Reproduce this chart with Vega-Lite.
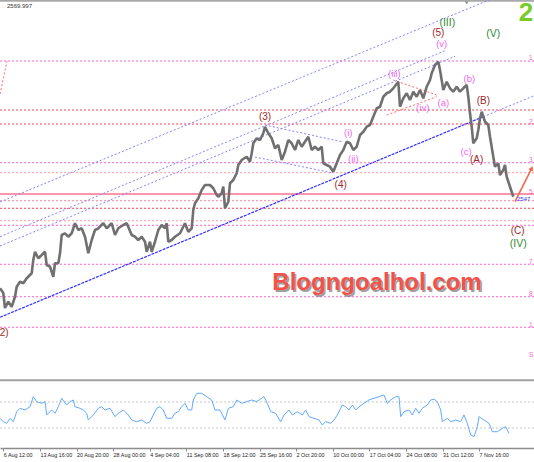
{
  "$schema": "https://vega.github.io/schema/vega-lite/v6.json",
  "width": 534,
  "height": 448,
  "autosize": {"type": "none"},
  "padding": {"left": 0, "top": 0, "right": 0, "bottom": 14},
  "background": "white",
  "config": {"view": {"stroke": null}},
  "datasets": {
    "levels": [
      {"p": 2790.2, "kind": "m"}, {"p": 2702, "kind": "r"}, {"p": 2676.8, "kind": "r"},
      {"p": 2607.1, "kind": "m"}, {"p": 2589.1, "kind": "s"}, {"p": 2538.7, "kind": "p"},
      {"p": 2525.1, "kind": "r"}, {"p": 2502.7, "kind": "s"}, {"p": 2494.5, "kind": "m"},
      {"p": 2424.3, "kind": "m"}, {"p": 2365.9, "kind": "m"}, {"p": 2310.9, "kind": "m"}
    ],
    "thick": [{"p": 2550.8}],
    "topbar": [{"p": 2899}],
    "lines": [
      {"id": "T", "t": 0, "p": 2328.9, "kind": "trend"}, {"id": "T", "t": 483.3, "p": 2689.9, "kind": "trend"},
      {"id": "T2", "t": 483.3, "p": 2689.9, "kind": "chan"}, {"id": "T2", "t": 534, "p": 2727.7, "kind": "chan"},
      {"id": "L1", "t": 0, "p": 2536.4, "kind": "chan"}, {"id": "L1", "t": 489, "p": 2900, "kind": "chan"},
      {"id": "L2", "t": 0, "p": 2473.9, "kind": "chan"}, {"id": "L2", "t": 445, "p": 2808.7, "kind": "chan"},
      {"id": "L3", "t": 0, "p": 2457.2, "kind": "chan"}, {"id": "L3", "t": 455, "p": 2798.7, "kind": "chan"},
      {"id": "U4", "t": 265, "p": 2675, "kind": "chan"}, {"id": "U4", "t": 343, "p": 2644.4, "kind": "chan"},
      {"id": "D4", "t": 255, "p": 2617.4, "kind": "chan"}, {"id": "D4", "t": 333, "p": 2588.6, "kind": "chan"},
      {"id": "RU", "t": 393.3, "p": 2756, "kind": "red"}, {"id": "RU", "t": 436.7, "p": 2729, "kind": "red"},
      {"id": "RD", "t": 386.7, "p": 2693, "kind": "red"}, {"id": "RD", "t": 436.7, "p": 2725.9, "kind": "red"},
      {"id": "RL", "t": 0, "p": 2730.8, "kind": "red"}, {"id": "RL", "t": 7, "p": 2790.2, "kind": "red"}
    ],
    "price": [
      {"t": 0, "p": 2381.1}, {"t": 3.3, "p": 2372.6}, {"t": 5, "p": 2345.6}, {"t": 8.3, "p": 2356.9},
      {"t": 11.7, "p": 2347.9}, {"t": 15, "p": 2365.9}, {"t": 16.7, "p": 2383.9}, {"t": 20, "p": 2392.9},
      {"t": 23.3, "p": 2390.1}, {"t": 26.7, "p": 2399.1}, {"t": 31.7, "p": 2408.1}, {"t": 33.3, "p": 2432},
      {"t": 35, "p": 2446.9}, {"t": 38.3, "p": 2435.1}, {"t": 41.7, "p": 2441}, {"t": 45, "p": 2446.9},
      {"t": 46.7, "p": 2423}, {"t": 50, "p": 2419.9}, {"t": 53.3, "p": 2401.9}, {"t": 55, "p": 2426.1},
      {"t": 58.3, "p": 2426.1}, {"t": 60, "p": 2444.1}, {"t": 61.7, "p": 2477}, {"t": 65, "p": 2480.1},
      {"t": 68.3, "p": 2473.9}, {"t": 71.7, "p": 2480.1}, {"t": 75, "p": 2498.1}, {"t": 78.3, "p": 2486},
      {"t": 81.7, "p": 2489.1}, {"t": 85, "p": 2473.9}, {"t": 88.3, "p": 2444.1}, {"t": 91.7, "p": 2468},
      {"t": 95, "p": 2486}, {"t": 98.3, "p": 2489.1}, {"t": 103.3, "p": 2498.1}, {"t": 106.7, "p": 2489.1},
      {"t": 111.7, "p": 2498.1}, {"t": 115, "p": 2477}, {"t": 118.3, "p": 2489.1}, {"t": 123.3, "p": 2495},
      {"t": 126.7, "p": 2498.1}, {"t": 131.7, "p": 2477}, {"t": 135, "p": 2473.9}, {"t": 138.3, "p": 2468},
      {"t": 141.7, "p": 2473.9}, {"t": 145, "p": 2464.9}, {"t": 146.7, "p": 2446.9}, {"t": 150, "p": 2464.9},
      {"t": 151.7, "p": 2446.9}, {"t": 155, "p": 2464.9}, {"t": 158.3, "p": 2486}, {"t": 161.7, "p": 2495},
      {"t": 165, "p": 2489.1}, {"t": 166.7, "p": 2498.1}, {"t": 168.3, "p": 2464.9}, {"t": 171.7, "p": 2468},
      {"t": 175, "p": 2473.9}, {"t": 180, "p": 2480.1}, {"t": 185, "p": 2498.1}, {"t": 188.3, "p": 2482.9},
      {"t": 191.7, "p": 2489.1}, {"t": 193.3, "p": 2522}, {"t": 195, "p": 2534.1}, {"t": 198.3, "p": 2543.1},
      {"t": 201.7, "p": 2558}, {"t": 205, "p": 2567}, {"t": 210, "p": 2567}, {"t": 213.3, "p": 2561.1},
      {"t": 216.7, "p": 2549}, {"t": 218.3, "p": 2545.9}, {"t": 221.7, "p": 2552.1}, {"t": 223.3, "p": 2564.1},
      {"t": 225, "p": 2525.1}, {"t": 228.3, "p": 2536.9}, {"t": 230, "p": 2570.1}, {"t": 233.3, "p": 2576},
      {"t": 236.7, "p": 2588.1}, {"t": 238.3, "p": 2603}, {"t": 241.7, "p": 2612}, {"t": 246.7, "p": 2617.9},
      {"t": 250, "p": 2608.9}, {"t": 251.7, "p": 2624.1}, {"t": 253.3, "p": 2642.1}, {"t": 256.7, "p": 2651.1},
      {"t": 260, "p": 2648}, {"t": 263.3, "p": 2660.1}, {"t": 265, "p": 2671.9}, {"t": 268.3, "p": 2660.1},
      {"t": 271.7, "p": 2651.1}, {"t": 275, "p": 2633.1}, {"t": 278.3, "p": 2639}, {"t": 281.7, "p": 2612},
      {"t": 285, "p": 2626.9}, {"t": 288.3, "p": 2648}, {"t": 291.7, "p": 2642.1}, {"t": 295, "p": 2630},
      {"t": 298.3, "p": 2648}, {"t": 301.7, "p": 2635.9}, {"t": 305, "p": 2644.9}, {"t": 308.3, "p": 2653.9},
      {"t": 311.7, "p": 2630}, {"t": 315, "p": 2635.9}, {"t": 318.3, "p": 2630}, {"t": 321.7, "p": 2635.9},
      {"t": 323.3, "p": 2606.1}, {"t": 326.7, "p": 2603}, {"t": 330, "p": 2599.9}, {"t": 333.3, "p": 2590.9},
      {"t": 336.7, "p": 2606.1}, {"t": 340, "p": 2621}, {"t": 343.3, "p": 2630}, {"t": 346.7, "p": 2644.9},
      {"t": 350, "p": 2642.1}, {"t": 353.3, "p": 2630}, {"t": 356.7, "p": 2635.9}, {"t": 360, "p": 2657},
      {"t": 363.3, "p": 2662.9}, {"t": 366.7, "p": 2671.9}, {"t": 370, "p": 2675}, {"t": 373.3, "p": 2689.9},
      {"t": 376.7, "p": 2705.1}, {"t": 380, "p": 2707.9}, {"t": 383.3, "p": 2725.9}, {"t": 386.7, "p": 2732.1},
      {"t": 390, "p": 2734.9}, {"t": 393.3, "p": 2741.1}, {"t": 398.3, "p": 2752.9}, {"t": 400, "p": 2707.9},
      {"t": 403.3, "p": 2723.1}, {"t": 406.7, "p": 2732.1}, {"t": 410, "p": 2720}, {"t": 413.3, "p": 2734.9},
      {"t": 416.7, "p": 2725.9}, {"t": 420, "p": 2738}, {"t": 423.3, "p": 2723.1}, {"t": 426.7, "p": 2743.9},
      {"t": 430, "p": 2756}, {"t": 431.7, "p": 2768.1}, {"t": 435, "p": 2783}, {"t": 438.3, "p": 2788.9},
      {"t": 440, "p": 2774}, {"t": 443.3, "p": 2738}, {"t": 446.7, "p": 2752.9}, {"t": 450, "p": 2741.1},
      {"t": 453.3, "p": 2734.9}, {"t": 456.7, "p": 2743.9}, {"t": 460, "p": 2734.9}, {"t": 463.3, "p": 2741.1},
      {"t": 466.7, "p": 2747}, {"t": 468.3, "p": 2725.9}, {"t": 470, "p": 2696.1}, {"t": 471.7, "p": 2671.9},
      {"t": 473.3, "p": 2642.1}, {"t": 476.7, "p": 2651.1}, {"t": 478.3, "p": 2666}, {"t": 480, "p": 2687.1},
      {"t": 481.7, "p": 2698.9}, {"t": 485, "p": 2680.9}, {"t": 488.3, "p": 2675}, {"t": 490, "p": 2653.9},
      {"t": 493.3, "p": 2617.9}, {"t": 495, "p": 2599.9}, {"t": 498.3, "p": 2606.1}, {"t": 500, "p": 2585},
      {"t": 503.3, "p": 2594}, {"t": 505, "p": 2603}, {"t": 506.7, "p": 2581.9}, {"t": 510, "p": 2563.9},
      {"t": 513.3, "p": 2545.9}
    ],
    "major": [
      {"t": 265, "p": 2690, "label": "(3)"}, {"t": 340.7, "p": 2567, "label": "(4)"},
      {"t": 438.3, "p": 2840, "label": "(5)"}, {"t": 476.7, "p": 2612, "label": "(A)"},
      {"t": 483.3, "p": 2718.7, "label": "(B)"}, {"t": 517.7, "p": 2484.2, "label": "(C)"},
      {"t": 2.5, "p": 2301.1, "label": "(2)"}
    ],
    "green": [
      {"t": 447.3, "p": 2858.1, "label": "(III)"}, {"t": 493.3, "p": 2838.8, "label": "(V)"},
      {"t": 518.3, "p": 2460.8, "label": "(IV)"}
    ],
    "minor": [
      {"t": 348.3, "p": 2660, "label": "(i)"}, {"t": 353.3, "p": 2613.3, "label": "(ii)"},
      {"t": 394.3, "p": 2766.8, "label": "(iii)"}, {"t": 422.7, "p": 2706.1, "label": "(iv)"},
      {"t": 441.7, "p": 2820.8, "label": "(v)"}, {"t": 443.3, "p": 2714, "label": "(a)"},
      {"t": 469.3, "p": 2757.3, "label": "(b)"}, {"t": 466, "p": 2626.9, "label": "(c)"}
    ],
    "edge": [
      {"t": 529, "p": 2795.6, "label": "1"}, {"t": 529, "p": 2681.3, "label": "2"},
      {"t": 529, "p": 2612, "label": "3"}, {"t": 529, "p": 2555.3, "label": "5"},
      {"t": 529, "p": 2429.3, "label": "7"}, {"t": 529, "p": 2371.7, "label": "8"},
      {"t": 529, "p": 2315.9, "label": "1"}, {"t": 529, "p": 2261, "label": "S"}
    ],
    "arrow": [{"t": 515, "p": 2536.9}, {"t": 531.7, "p": 2597}],
    "arrowhead": [{"t": 531.7, "p": 2597}],
    "marker": [{"t": 466.7, "p": 2894.6}],
    "rsi": [
      {"t": 0, "r": 44.9}, {"t": 3.3, "r": 39.7}, {"t": 6.7, "r": 37.2}, {"t": 10, "r": 44.9},
      {"t": 13.3, "r": 39.7}, {"t": 16.7, "r": 55.1}, {"t": 20, "r": 60.3}, {"t": 25, "r": 57.7},
      {"t": 30, "r": 62.8}, {"t": 33.3, "r": 78.2}, {"t": 36.7, "r": 70.5}, {"t": 41.7, "r": 68},
      {"t": 45, "r": 70.5}, {"t": 46.7, "r": 50}, {"t": 51.7, "r": 57.7}, {"t": 55, "r": 52.6},
      {"t": 58.3, "r": 62.8}, {"t": 61.7, "r": 75.7}, {"t": 66.7, "r": 65.4}, {"t": 70, "r": 70.5},
      {"t": 73.3, "r": 73.1}, {"t": 75, "r": 62.8}, {"t": 80, "r": 60.3}, {"t": 83.3, "r": 57.7},
      {"t": 86.7, "r": 52.6}, {"t": 88.3, "r": 42.3}, {"t": 93.3, "r": 50}, {"t": 98.3, "r": 60.3},
      {"t": 101.7, "r": 62.8}, {"t": 105, "r": 57.7}, {"t": 110, "r": 60.3}, {"t": 115, "r": 47.4},
      {"t": 118.3, "r": 52.6}, {"t": 123.3, "r": 57.7}, {"t": 128.3, "r": 50}, {"t": 131.7, "r": 42.3},
      {"t": 136.7, "r": 39.7}, {"t": 141.7, "r": 42.3}, {"t": 146.7, "r": 37.2}, {"t": 150, "r": 39.7},
      {"t": 153.3, "r": 50}, {"t": 156.7, "r": 60.3}, {"t": 160, "r": 62.8}, {"t": 163.3, "r": 57.7},
      {"t": 166.7, "r": 44.9}, {"t": 171.7, "r": 44.9}, {"t": 175, "r": 52.6}, {"t": 178.3, "r": 55.1},
      {"t": 181.7, "r": 62.8}, {"t": 185, "r": 68}, {"t": 188.3, "r": 57.7}, {"t": 191.7, "r": 57.7},
      {"t": 193.3, "r": 73.1}, {"t": 196.7, "r": 83.4}, {"t": 201.7, "r": 83.4}, {"t": 206.7, "r": 78.2},
      {"t": 211.7, "r": 73.1}, {"t": 215, "r": 57.7}, {"t": 220, "r": 57.7}, {"t": 225, "r": 42.3},
      {"t": 228.3, "r": 60.3}, {"t": 233.3, "r": 62.8}, {"t": 236.7, "r": 73.1}, {"t": 241.7, "r": 68},
      {"t": 246.7, "r": 70.5}, {"t": 251.7, "r": 73.1}, {"t": 256.7, "r": 70.5}, {"t": 261.7, "r": 75.7},
      {"t": 264, "r": 78.2}, {"t": 267.3, "r": 68}, {"t": 270.7, "r": 55.1}, {"t": 275.7, "r": 52.6},
      {"t": 280.7, "r": 39.7}, {"t": 284, "r": 50}, {"t": 289, "r": 57.7}, {"t": 292.3, "r": 50},
      {"t": 297.3, "r": 55.1}, {"t": 302.3, "r": 50}, {"t": 305.7, "r": 57.7}, {"t": 309, "r": 47.4},
      {"t": 314, "r": 44.9}, {"t": 319, "r": 42.3}, {"t": 322.3, "r": 34.6}, {"t": 325.7, "r": 39.7},
      {"t": 330.7, "r": 37.2}, {"t": 334, "r": 42.3}, {"t": 337.3, "r": 50}, {"t": 342.3, "r": 65.4},
      {"t": 345.7, "r": 62.8}, {"t": 349, "r": 57.7}, {"t": 352.3, "r": 65.4}, {"t": 355.7, "r": 57.7},
      {"t": 359, "r": 62.8}, {"t": 364, "r": 68}, {"t": 369, "r": 73.1}, {"t": 374, "r": 75.7},
      {"t": 379, "r": 78.2}, {"t": 384, "r": 80.8}, {"t": 387.3, "r": 68}, {"t": 390.7, "r": 73.1},
      {"t": 395.7, "r": 78.2}, {"t": 399, "r": 78.2}, {"t": 400.7, "r": 47.4}, {"t": 404, "r": 55.1},
      {"t": 409, "r": 57.7}, {"t": 412.3, "r": 50}, {"t": 415.7, "r": 60.3}, {"t": 419, "r": 52.6},
      {"t": 422.3, "r": 60.3}, {"t": 427.3, "r": 65.4}, {"t": 430.7, "r": 73.1}, {"t": 434, "r": 74.2},
      {"t": 437.3, "r": 70.5}, {"t": 440.7, "r": 57.7}, {"t": 442.3, "r": 39.7}, {"t": 447.3, "r": 44.9},
      {"t": 450.7, "r": 39.7}, {"t": 455.7, "r": 42.3}, {"t": 460.7, "r": 39.7}, {"t": 464, "r": 50},
      {"t": 467.3, "r": 37.2}, {"t": 470.7, "r": 19.2}, {"t": 474, "r": 16.6}, {"t": 477.3, "r": 32},
      {"t": 479, "r": 47.4}, {"t": 484, "r": 42.3}, {"t": 489, "r": 37.2}, {"t": 492.3, "r": 24.3},
      {"t": 497.3, "r": 24.3}, {"t": 502.3, "r": 29.5}, {"t": 505.7, "r": 32}, {"t": 509, "r": 21.8}
    ],
    "rsilevels": [{"r": 70}, {"r": 30}],
    "separator": [{"r": 103.4}]
  },
  "resolve": {"scale": {"y": "independent"}},
  "layer": [
    {
      "layer": [
        {
          "data": {"name": "levels"},
          "transform": [{"filter": "datum.kind == 'm'"}],
          "mark": {"type": "rule", "strokeDash": [2, 2], "strokeWidth": 1, "color": "#ff5fcf"},
          "encoding": {"y": {"field": "p", "type": "quantitative", "scale": {"domain": [2093.6, 2900], "nice": false, "zero": false}, "axis": null}}
        },
        {
          "data": {"name": "levels"},
          "transform": [{"filter": "datum.kind == 'r'"}],
          "mark": {"type": "rule", "strokeDash": [2, 2], "strokeWidth": 1, "color": "#ff3f4f"},
          "encoding": {"y": {"field": "p", "type": "quantitative", "scale": {"domain": [2093.6, 2900], "nice": false, "zero": false}, "axis": null}}
        },
        {
          "data": {"name": "levels"},
          "transform": [{"filter": "datum.kind == 's'"}],
          "mark": {"type": "rule", "strokeDash": [2, 2], "strokeWidth": 1, "color": "#ff9a9a"},
          "encoding": {"y": {"field": "p", "type": "quantitative", "scale": {"domain": [2093.6, 2900], "nice": false, "zero": false}, "axis": null}}
        },
        {
          "data": {"name": "levels"},
          "transform": [{"filter": "datum.kind == 'p'"}],
          "mark": {"type": "rule", "strokeDash": [2, 2], "strokeWidth": 1, "color": "#ff7fa0"},
          "encoding": {"y": {"field": "p", "type": "quantitative", "scale": {"domain": [2093.6, 2900], "nice": false, "zero": false}, "axis": null}}
        },
        {
          "data": {"name": "thick"},
          "mark": {"type": "rule", "strokeWidth": 2, "color": "#ff94aa"},
          "encoding": {"y": {"field": "p", "type": "quantitative", "scale": {"domain": [2093.6, 2900], "nice": false, "zero": false}, "axis": null}}
        },
        {
          "data": {"name": "topbar"},
          "mark": {"type": "rule", "strokeWidth": 2.2, "color": "#a8a8a8"},
          "encoding": {"y": {"field": "p", "type": "quantitative", "scale": {"domain": [2093.6, 2900], "nice": false, "zero": false}, "axis": null}}
        },
        {
          "data": {"name": "lines"},
          "transform": [{"filter": "datum.kind == 'chan'"}],
          "mark": {"type": "line", "strokeWidth": 1, "strokeDash": [2, 2], "color": "#8585ff", "clip": true},
          "encoding": {
            "x": {"field": "t", "type": "quantitative", "scale": {"domain": [0, 534], "nice": false, "zero": false}},
            "y": {"field": "p", "type": "quantitative", "scale": {"domain": [2093.6, 2900], "nice": false, "zero": false}, "axis": null},
            "detail": {"field": "id"}
          }
        },
        {
          "data": {"name": "lines"},
          "transform": [{"filter": "datum.kind == 'red'"}],
          "mark": {"type": "line", "strokeWidth": 1, "strokeDash": [2, 2], "color": "#ff6a6a", "clip": true},
          "encoding": {
            "x": {"field": "t", "type": "quantitative", "scale": {"domain": [0, 534], "nice": false, "zero": false}},
            "y": {"field": "p", "type": "quantitative", "scale": {"domain": [2093.6, 2900], "nice": false, "zero": false}, "axis": null},
            "detail": {"field": "id"}
          }
        },
        {
          "data": {"name": "lines"},
          "transform": [{"filter": "datum.kind == 'trend'"}],
          "mark": {"type": "line", "strokeWidth": 1.2, "strokeDash": [3, 1], "color": "#3030ff", "clip": true},
          "encoding": {
            "x": {"field": "t", "type": "quantitative", "scale": {"domain": [0, 534], "nice": false, "zero": false}},
            "y": {"field": "p", "type": "quantitative", "scale": {"domain": [2093.6, 2900], "nice": false, "zero": false}, "axis": null},
            "detail": {"field": "id"}
          }
        },
        {
          "data": {"name": "price"},
          "mark": {"type": "line", "color": "#707070", "strokeWidth": 2.6, "strokeJoin": "bevel"},
          "encoding": {
            "x": {
              "field": "t", "type": "quantitative",
              "scale": {"domain": [0, 534], "nice": false, "zero": false},
              "axis": {
                "orient": "bottom", "title": null, "grid": false,
                "values": [3.3, 39.9, 76.5, 113.1, 149.7, 186.3, 222.9, 259.5, 296.1, 332.7, 369.3, 405.9, 442.5, 479.1],
                "labelExpr": "['6 Aug 12:00','13 Aug 16:00','20 Aug 20:00','28 Aug 00:00','4 Sep 04:00','11 Sep 08:00','18 Sep 12:00','25 Sep 16:00','2 Oct 20:00','10 Oct 00:00','17 Oct 04:00','24 Oct 08:00','31 Oct 12:00','7 Nov 16:00'][round((datum.value-3.3)/36.6)]",
                "labelAlign": "left", "labelBaseline": "top", "labelFont": "Liberation Sans", "labelFontSize": 5.4,
                "labelColor": "#222222", "labelPadding": 1.5, "labelDx": 1, "labelOverlap": false, "labelFlush": false,
                "domainColor": "#8c8c8c", "domainWidth": 1.5, "tickColor": "#8c8c8c", "tickSize": 3, "tickWidth": 1
              }
            },
            "y": {"field": "p", "type": "quantitative", "scale": {"domain": [2093.6, 2900], "nice": false, "zero": false}, "axis": null}
          }
        },
        {
          "data": {"name": "arrow"},
          "mark": {"type": "line", "color": "#f0694f", "strokeWidth": 1.6},
          "encoding": {
            "x": {"field": "t", "type": "quantitative", "scale": {"domain": [0, 534], "nice": false, "zero": false}},
            "y": {"field": "p", "type": "quantitative", "scale": {"domain": [2093.6, 2900], "nice": false, "zero": false}, "axis": null}
          }
        },
        {
          "data": {"name": "arrowhead"},
          "mark": {"type": "point", "shape": "triangle-up", "filled": true, "size": 28, "angle": 27, "color": "#f0694f", "opacity": 1},
          "encoding": {
            "x": {"field": "t", "type": "quantitative", "scale": {"domain": [0, 534], "nice": false, "zero": false}},
            "y": {"field": "p", "type": "quantitative", "scale": {"domain": [2093.6, 2900], "nice": false, "zero": false}, "axis": null}
          }
        },
        {
          "data": {"name": "marker"},
          "mark": {"type": "point", "shape": "triangle-down", "filled": true, "size": 14, "color": "#909090", "opacity": 1},
          "encoding": {
            "x": {"field": "t", "type": "quantitative", "scale": {"domain": [0, 534], "nice": false, "zero": false}},
            "y": {"field": "p", "type": "quantitative", "scale": {"domain": [2093.6, 2900], "nice": false, "zero": false}, "axis": null}
          }
        },
        {
          "data": {"name": "major"},
          "mark": {"type": "text", "font": "Liberation Sans", "fontSize": 10, "color": "#a02828", "baseline": "middle"},
          "encoding": {
            "x": {"field": "t", "type": "quantitative", "scale": {"domain": [0, 534], "nice": false, "zero": false}},
            "y": {"field": "p", "type": "quantitative", "scale": {"domain": [2093.6, 2900], "nice": false, "zero": false}, "axis": null},
            "text": {"field": "label"}
          }
        },
        {
          "data": {"name": "green"},
          "mark": {"type": "text", "font": "Liberation Sans", "fontSize": 10.5, "color": "#2f8a2f", "baseline": "middle"},
          "encoding": {
            "x": {"field": "t", "type": "quantitative", "scale": {"domain": [0, 534], "nice": false, "zero": false}},
            "y": {"field": "p", "type": "quantitative", "scale": {"domain": [2093.6, 2900], "nice": false, "zero": false}, "axis": null},
            "text": {"field": "label"}
          }
        },
        {
          "data": {"name": "minor"},
          "mark": {"type": "text", "font": "Liberation Sans", "fontSize": 9.5, "color": "#f266f2", "baseline": "middle"},
          "encoding": {
            "x": {"field": "t", "type": "quantitative", "scale": {"domain": [0, 534], "nice": false, "zero": false}},
            "y": {"field": "p", "type": "quantitative", "scale": {"domain": [2093.6, 2900], "nice": false, "zero": false}, "axis": null},
            "text": {"field": "label"}
          }
        },
        {
          "data": {"name": "edge"},
          "mark": {"type": "text", "font": "Liberation Sans", "fontSize": 6.5, "color": "#ff5fcf", "align": "left", "baseline": "middle"},
          "encoding": {
            "x": {"field": "t", "type": "quantitative", "scale": {"domain": [0, 534], "nice": false, "zero": false}},
            "y": {"field": "p", "type": "quantitative", "scale": {"domain": [2093.6, 2900], "nice": false, "zero": false}, "axis": null},
            "text": {"field": "label"}
          }
        },
        {
          "data": {"values": [{"t": 526, "p": 2876, "label": "2"}]},
          "mark": {"type": "text", "font": "Liberation Sans", "fontSize": 26, "fontWeight": "bold", "color": "#78cc28", "baseline": "middle"},
          "encoding": {
            "x": {"field": "t", "type": "quantitative", "scale": {"domain": [0, 534], "nice": false, "zero": false}},
            "y": {"field": "p", "type": "quantitative", "scale": {"domain": [2093.6, 2900], "nice": false, "zero": false}, "axis": null},
            "text": {"field": "label"}
          }
        },
        {
          "data": {"values": [{"t": 7, "p": 2889.2, "label": "2569.997"}]},
          "mark": {"type": "text", "font": "Liberation Sans", "fontSize": 6, "align": "left", "baseline": "middle", "color": "#333333"},
          "encoding": {
            "x": {"field": "t", "type": "quantitative", "scale": {"domain": [0, 534], "nice": false, "zero": false}},
            "y": {"field": "p", "type": "quantitative", "scale": {"domain": [2093.6, 2900], "nice": false, "zero": false}, "axis": null},
            "text": {"field": "label"}
          }
        },
        {
          "data": {"values": [{"t": 517, "p": 2541.3, "label": "2547"}]},
          "mark": {"type": "text", "font": "Liberation Sans", "fontSize": 6, "align": "left", "baseline": "middle", "color": "#2a3cff"},
          "encoding": {
            "x": {"field": "t", "type": "quantitative", "scale": {"domain": [0, 534], "nice": false, "zero": false}},
            "y": {"field": "p", "type": "quantitative", "scale": {"domain": [2093.6, 2900], "nice": false, "zero": false}, "axis": null},
            "text": {"field": "label"}
          }
        },
        {
          "data": {"values": [{"t": 377, "p": 2378, "label": "Blogngoalhol.com"}]},
          "mark": {"type": "text", "font": "Liberation Sans", "fontSize": 24, "fontWeight": "bold", "color": "#8a8a8a", "opacity": 0.8, "baseline": "alphabetic", "dx": 1.6, "dy": 1.6},
          "encoding": {
            "x": {"field": "t", "type": "quantitative", "scale": {"domain": [0, 534], "nice": false, "zero": false}},
            "y": {"field": "p", "type": "quantitative", "scale": {"domain": [2093.6, 2900], "nice": false, "zero": false}, "axis": null},
            "text": {"field": "label"}
          }
        },
        {
          "data": {"values": [{"t": 377, "p": 2378, "label": "Blogngoalhol.com"}]},
          "mark": {"type": "text", "font": "Liberation Sans", "fontSize": 24, "fontWeight": "bold", "color": "#f2524a", "baseline": "alphabetic"},
          "encoding": {
            "x": {"field": "t", "type": "quantitative", "scale": {"domain": [0, 534], "nice": false, "zero": false}},
            "y": {"field": "p", "type": "quantitative", "scale": {"domain": [2093.6, 2900], "nice": false, "zero": false}, "axis": null},
            "text": {"field": "label"}
          }
        }
      ]
    },
    {
      "layer": [
        {
          "data": {"name": "separator"},
          "mark": {"type": "rule", "strokeWidth": 2, "color": "#a0a0a0"},
          "encoding": {"y": {"field": "r", "type": "quantitative", "scale": {"domain": [-0.77, 688.46], "nice": false, "zero": false}, "axis": null}}
        },
        {
          "data": {"name": "rsilevels"},
          "mark": {"type": "rule", "strokeWidth": 1, "color": "#c8c8c8", "strokeDash": [2, 2]},
          "encoding": {"y": {"field": "r", "type": "quantitative", "scale": {"domain": [-0.77, 688.46], "nice": false, "zero": false}, "axis": null}}
        },
        {
          "data": {"name": "rsi"},
          "mark": {"type": "line", "color": "#62aaff", "strokeWidth": 1},
          "encoding": {
            "x": {"field": "t", "type": "quantitative", "scale": {"domain": [0, 534], "nice": false, "zero": false}},
            "y": {"field": "r", "type": "quantitative", "scale": {"domain": [-0.77, 688.46], "nice": false, "zero": false}, "axis": null}
          }
        }
      ]
    }
  ]
}
